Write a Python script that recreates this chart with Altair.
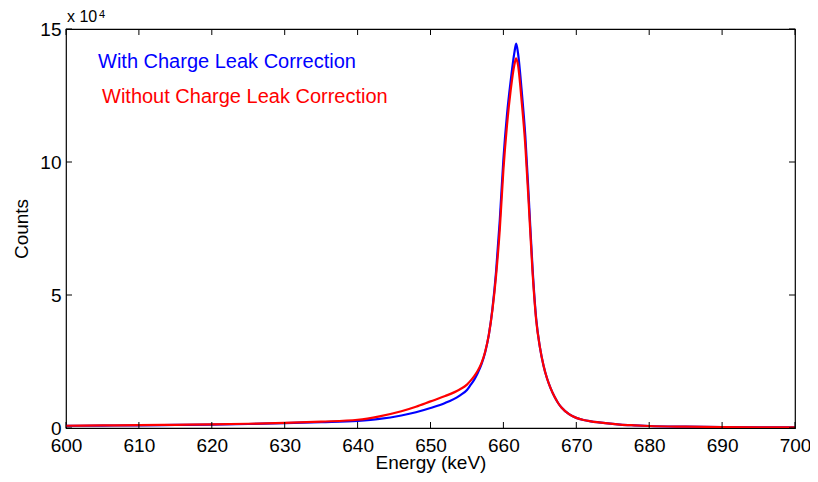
import altair as alt
import pandas as pd

energy = [600, 605, 610, 615, 620, 625, 630, 635, 640, 643, 646, 648, 650, 652, 654, 655, 655.5,
          656, 656.5, 657, 657.5, 658, 658.5, 659, 659.5, 660, 660.5, 661, 661.5, 661.75, 662,
          662.5, 663, 663.5, 664, 664.5, 665, 665.5, 666, 666.5, 667, 667.5, 668, 669, 670, 671,
          672, 674, 676, 678, 680, 685, 690, 695, 700]

with_correction = [800, 900, 1000, 1150, 1300, 1500, 1800, 2200, 2700, 3400, 4700, 5900, 7500,
                   9400, 12200, 14300, 16200, 18200, 20800, 24000, 28500, 35000, 45000, 59000,
                   78000, 101000, 118000, 130500, 141000, 144500, 141000, 127000, 110000, 85500,
                   60000, 41000, 30500, 23500, 18500, 14800, 11800, 9400, 7600, 5200, 3800, 3000,
                   2500, 1800, 1300, 1000, 750, 500, 350, 250, 200]

without_correction = [850, 950, 1050, 1200, 1350, 1600, 1900, 2400, 3100, 4400, 6300, 8000,
                      10000, 12000, 14500, 16300, 17800, 19500, 21600, 24500, 28700, 35000,
                      44500, 57500, 74500, 97000, 114000, 127000, 136500, 139000, 136500, 123000,
                      106500, 83000, 58500, 40500, 30500, 23500, 18500, 14800, 11800, 9400, 7600,
                      5200, 3800, 3000, 2500, 1800, 1300, 1000, 750, 500, 350, 250, 200]

x_ticks = [600, 610, 620, 630, 640, 650, 660, 670, 680, 690, 700]
y_ticks = [0, 50000, 100000, 150000]

series_names = ["With Charge Leak Correction", "Without Charge Leak Correction"]
series_colors = ["#0000ff", "#ff0000"]

W, H = 729, 399
FONT = "Liberation Sans"

df = pd.concat([
    pd.DataFrame({"energy": energy, "counts": with_correction, "series": series_names[0], "order": 0}),
    pd.DataFrame({"energy": energy, "counts": without_correction, "series": series_names[1], "order": 1}),
])

xscale = alt.Scale(domain=[600, 700], nice=False, zero=False)
yscale = alt.Scale(domain=[0, 150000], nice=False)

lines = alt.Chart(df).mark_line(strokeWidth=2.2, clip=True, interpolate="monotone").encode(
    x=alt.X("energy:Q", scale=xscale,
            axis=alt.Axis(title="Energy (keV)", values=x_ticks, ticks=False, grid=False,
                          domain=False, labelPadding=8, labelFontSize=19, titleFontSize=19,
                          titleY=40, titleBaseline="alphabetic", labelFont=FONT, titleFont=FONT,
                          labelColor="black", titleColor="black", titleFontWeight="normal",
                          labelFlush=False)),
    y=alt.Y("counts:Q", scale=yscale,
            axis=alt.Axis(title="Counts", values=y_ticks, ticks=False, grid=False, domain=False,
                          labelExpr="datum.value / 10000", labelPadding=5, labelFontSize=19,
                          titleFontSize=19, titlePadding=8, labelFont=FONT, titleFont=FONT,
                          labelColor="black", titleColor="black", titleFontWeight="normal",
                          labelFlush=False)),
    color=alt.Color("series:N", scale=alt.Scale(domain=series_names, range=series_colors), legend=None),
    order="order:Q",
    detail="series:N",
)

xt = pd.DataFrame({"v": x_ticks})
yt = pd.DataFrame({"v": y_ticks})

xb = alt.Chart(xt).mark_rule(color="black", strokeWidth=1).encode(
    x=alt.X("v:Q", scale=xscale), y=alt.value(H), y2=alt.value(H - 6))
xtop = alt.Chart(xt).mark_rule(color="black", strokeWidth=1).encode(
    x=alt.X("v:Q", scale=xscale), y=alt.value(0), y2=alt.value(6))
yl = alt.Chart(yt).mark_rule(color="black", strokeWidth=1).encode(
    y=alt.Y("v:Q", scale=yscale), x=alt.value(0), x2=alt.value(6))
yr = alt.Chart(yt).mark_rule(color="black", strokeWidth=1).encode(
    y=alt.Y("v:Q", scale=yscale), x=alt.value(W), x2=alt.value(W - 6))

leg = pd.DataFrame({"t": series_names, "c": series_colors, "px": [32, 36], "py": [39, 74]})
legend_text = alt.Chart(leg).mark_text(align="left", baseline="alphabetic", fontSize=20, font=FONT).encode(
    text="t:N", x=alt.X("px:Q", scale=None), y=alt.Y("py:Q", scale=None), color=alt.Color("c:N", scale=None))

exp_base = alt.Chart(pd.DataFrame({"t": ["x 10"]})).mark_text(
    align="left", baseline="alphabetic", fontSize=16, font=FONT, color="black").encode(
    text="t:N", x=alt.value(1), y=alt.value(-7))
exp_sup = alt.Chart(pd.DataFrame({"t": ["4"]})).mark_text(
    align="left", baseline="alphabetic", fontSize=11, font=FONT, color="black").encode(
    text="t:N", x=alt.value(33), y=alt.value(-11))

chart = alt.layer(lines, xb, xtop, yl, yr, legend_text, exp_base, exp_sup).properties(
    width=W, height=H,
    autosize=alt.AutoSizeParams(type="none"),
    padding={"left": 58, "top": 21, "right": 15, "bottom": 46},
    background="white",
).configure_view(stroke="black", strokeWidth=1.2)

chart.save("out.html", embed_options={"renderer": "svg", "actions": False})
